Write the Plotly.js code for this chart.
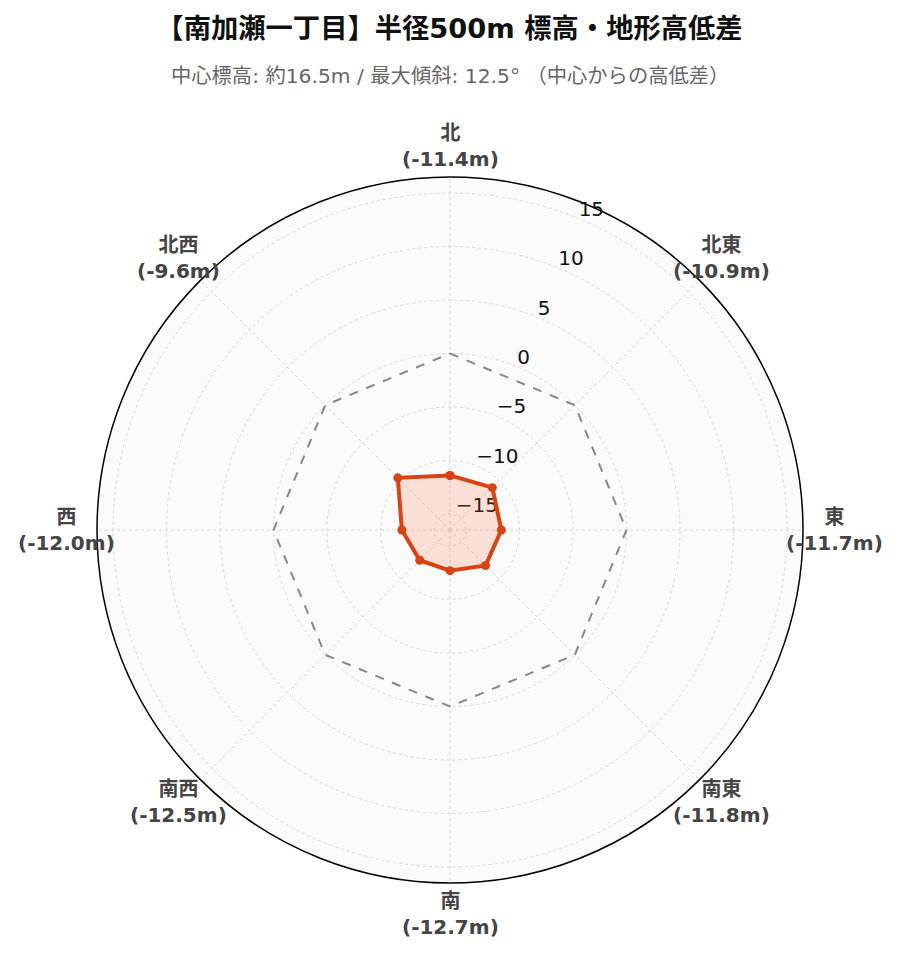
<!DOCTYPE html>
<html>
<head>
<meta charset="utf-8">
<script src="https://cdn.plot.ly/plotly-3.0.1.min.js"></script>
<style>html,body{margin:0;padding:0;background:#fff;}#chart{width:899px;height:962px;}</style>
</head>
<body>
<div id="chart"></div>
<script>
var directions = ["北", "北東", "東", "南東", "南", "南西", "西", "北西"];
var directionAngles = [0, 45, 90, 135, 180, 225, 270, 315];
var elevationDiff = [-11.4, -10.9, -11.7, -11.8, -12.7, -12.5, -12.0, -9.6];
var referenceLevel = [0, 0, 0, 0, 0, 0, 0, 0];
var radialTicks = [-15, -10, -5, 0, 5, 10, 15];
var centerElevation = 16.5;
var maxSlope = 12.5;

var FONT = "DejaVu Sans, Noto Sans CJK JP, sans-serif";
var W = 899, H = 962;
var M = { l: 60, r: 60, t: 140, b: 60 };
var PW = W - M.l - M.r, PH = H - M.t - M.b;
function px2x(px) { return (px - M.l) / PW; }
function px2y(py) { return (H - M.b - py) / PH; }

// polar circle: center (450,530), radius 353 px
var CX = 450, CY = 530, R = 353;
var mainDomain = { x: [px2x(CX - R), px2x(CX + R)], y: [px2y(CY + R), px2y(CY - R)] };
// tick-label layer, nudged so labels sit above the axis line
var LDX = -10, LDY = -17;
var labelDomain = { x: [px2x(CX - R + LDX), px2x(CX + R + LDX)], y: [px2y(CY + R + LDY), px2y(CY - R + LDY)] };

var traceAxisLayer = {
  type: "scatterpolar", subplot: "polar2",
  r: [], theta: [], mode: "markers",
  showlegend: false, hoverinfo: "skip"
};
var traceBgLayer = {
  type: "scatterpolar", subplot: "polar",
  r: [], theta: [], mode: "markers",
  showlegend: false, hoverinfo: "skip"
};
var traceRef = {
  type: "scatterpolar",
  subplot: "polar3",
  r: referenceLevel.concat([referenceLevel[0]]),
  theta: directions.concat([directions[0]]),
  mode: "lines",
  line: { color: "#888888", width: 2, dash: "dash" },
  hoverinfo: "skip",
  showlegend: false
};
var traceMain = {
  type: "scatterpolar",
  subplot: "polar3",
  r: elevationDiff.concat([elevationDiff[0]]),
  theta: directions.concat([directions[0]]),
  mode: "lines+markers",
  fill: "toself",
  fillcolor: "rgba(255,87,34,0.17)",
  line: { color: "#d84315", width: 4 },
  marker: { color: "#d84315", size: 9 },
  showlegend: false
};

// direction labels placed around the outer ring (centered text)
var labelRadiusPx = 384;
var annotations = directions.map(function (d, i) {
  var a = directionAngles[i] * Math.PI / 180;
  return {
    xref: "paper", yref: "paper",
    x: px2x(CX + labelRadiusPx * Math.sin(a)),
    y: px2y(CY - labelRadiusPx * Math.cos(a)),
    xanchor: "center", yanchor: "middle", align: "center",
    showarrow: false,
    text: "<b>" + d + "</b><br><b>(" + elevationDiff[i].toFixed(1) + "m)</b>",
    font: { family: FONT, size: 20, color: "#444444" }
  };
});
annotations.push({
  xref: "paper", yref: "paper",
  x: 0.5, y: px2y(76),
  xanchor: "center", yanchor: "middle",
  showarrow: false,
  text: "中心標高: 約" + centerElevation.toFixed(1) + "m / 最大傾斜: " + maxSlope.toFixed(1) + "° （中心からの高低差）",
  font: { family: FONT, size: 20.3, color: "#666666" }
});

var radialCommon = {
  range: [-16.5, 16.5],
  tickvals: radialTicks,
  angle: 67.5,
  tickangle: 67.5,
  showline: false,
  ticks: ""
};
var angularCommon = {
  rotation: 90,
  direction: "clockwise",
  categoryarray: directions,
  categoryorder: "array",
  showticklabels: false,
  ticks: ""
};

var layout = {
  width: W,
  height: H,
  paper_bgcolor: "#ffffff",
  margin: M,
  font: { family: FONT },
  title: {
    text: "<b>【南加瀬一丁目】半径500m 標高・地形高低差</b>",
    x: 0.5, xanchor: "center", xref: "paper",
    y: 1 - 28 / H, yanchor: "middle", yref: "container",
    font: { family: FONT, size: 27.3, color: "#111111" }
  },
  annotations: annotations,
  // background + grid + outer ring
  polar: {
    domain: mainDomain,
    bgcolor: "#fafafa",
    radialaxis: Object.assign({}, radialCommon, {
      showticklabels: false,
      gridcolor: "#d6d6d6",
      griddash: "dot"
    }),
    angularaxis: Object.assign({}, angularCommon, {
      linecolor: "#000000",
      linewidth: 1.5,
      showline: true,
      gridcolor: "#d6d6d6",
      griddash: "dot"
    })
  },
  // radial tick labels
  polar2: {
    domain: labelDomain,
    bgcolor: "rgba(0,0,0,0)",
    radialaxis: Object.assign({}, radialCommon, {
      showgrid: false,
      showticklabels: true,
      tickfont: { size: 20, color: "#111111", family: FONT }
    }),
    angularaxis: Object.assign({}, angularCommon, {
      showline: false,
      showgrid: false
    })
  },
  // data traces, drawn on top
  polar3: {
    domain: mainDomain,
    bgcolor: "rgba(0,0,0,0)",
    radialaxis: Object.assign({}, radialCommon, {
      showgrid: false,
      showticklabels: false
    }),
    angularaxis: Object.assign({}, angularCommon, {
      showline: false,
      showgrid: false
    })
  }
};

Plotly.newPlot("chart", [traceBgLayer, traceAxisLayer, traceRef, traceMain], layout, { displayModeBar: false, staticPlot: true });
</script>
</body>
</html>
